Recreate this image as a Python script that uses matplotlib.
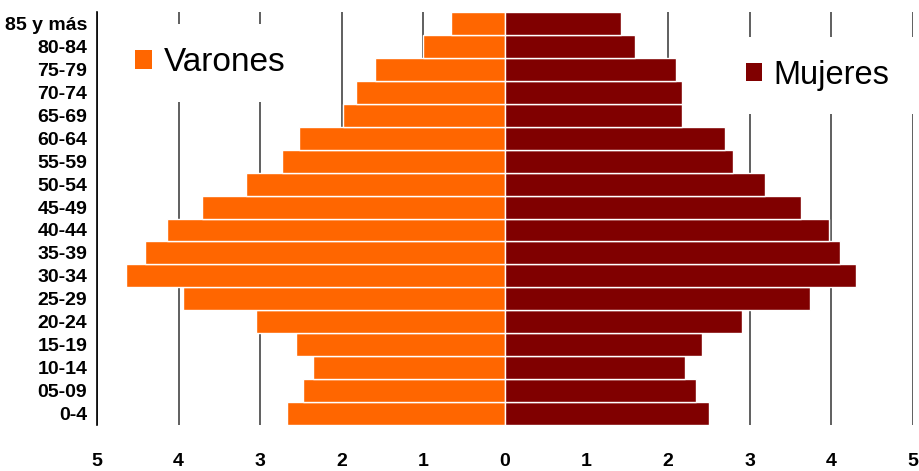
import matplotlib
matplotlib.use("Agg")
import matplotlib.pyplot as plt
from matplotlib.patches import Patch

plt.rcParams['font.family'] = ['Liberation Sans', 'DejaVu Sans']

groups = ["0-4", "05-09", "10-14", "15-19", "20-24", "25-29", "30-34", "35-39",
          "40-44", "45-49", "50-54", "55-59", "60-64", "65-69", "70-74", "75-79",
          "80-84", "85 y más"]
varones = [2.67, 2.48, 2.35, 2.56, 3.05, 3.95, 4.64, 4.41, 4.14, 3.71, 3.17,
           2.73, 2.52, 1.99, 1.83, 1.59, 1.00, 0.66]
mujeres = [2.50, 2.34, 2.21, 2.41, 2.90, 3.74, 4.30, 4.11, 3.97, 3.63, 3.19,
           2.79, 2.69, 2.17, 2.17, 2.10, 1.59, 1.42]
xticks = [-5, -4, -3, -2, -1, 0, 1, 2, 3, 4, 5]
xticklabels = ["5", "4", "3", "2", "1", "0", "1", "2", "3", "4", "5"]

c_v = "#FF6600"
c_m = "#800000"

fig = plt.figure(figsize=(9.2, 4.71), dpi=100)
W, H = 920, 471
ax = fig.add_axes([97 / W, 1 - 425 / H, (913 - 97) / W, (425 - 12) / H])

y = list(range(len(groups)))
ax.barh(y, [-v for v in varones], height=1.0, color=c_v, edgecolor="white",
        linewidth=1.0, zorder=2)
ax.barh(y, mujeres, height=1.0, color=c_m, edgecolor="white",
        linewidth=1.0, zorder=2)

ax.set_xlim(-5, 5)
ax.set_ylim(-0.5, len(groups) - 0.5)
ax.set_xticks(xticks)
ax.set_xticklabels(xticklabels, fontsize=14, fontweight="bold")
ax.set_yticks(y)
ax.set_yticklabels(groups, fontsize=14, fontweight="bold")
ax.tick_params(axis="both", length=0)
ax.tick_params(axis="y", pad=7)
ax.tick_params(axis="x", pad=20)

for s in ["top", "right", "bottom"]:
    ax.spines[s].set_visible(False)
ax.spines["left"].set_color("black")
ax.spines["left"].set_linewidth(1.2)
ax.spines["left"].set_zorder(5)

ax.xaxis.grid(True, color="#444444", linewidth=1.2, zorder=0)
ax.set_axisbelow(True)

leg1 = ax.legend(handles=[Patch(facecolor=c_v, edgecolor="none", label="Varones")],
                 loc="center left", bbox_to_anchor=(0.018, 0.877),
                 fontsize=24, frameon=True, framealpha=1, facecolor="white",
                 edgecolor="none", fancybox=False, borderpad=0.7,
                 handlelength=0.5, handleheight=0.5, handletextpad=0.36,
                 borderaxespad=0)
leg1.set_zorder(3)
ax.add_artist(leg1)
leg2 = ax.legend(handles=[Patch(facecolor=c_m, edgecolor="none", label="Mujeres")],
                 loc="center left", bbox_to_anchor=(0.767, 0.847),
                 fontsize=23.5, frameon=True, framealpha=1, facecolor="white",
                 edgecolor="none", fancybox=False, borderpad=0.7,
                 handlelength=0.5, handleheight=0.5, handletextpad=0.36,
                 borderaxespad=0)
leg2.set_zorder(3)

fig.savefig("out.png", dpi=100)
